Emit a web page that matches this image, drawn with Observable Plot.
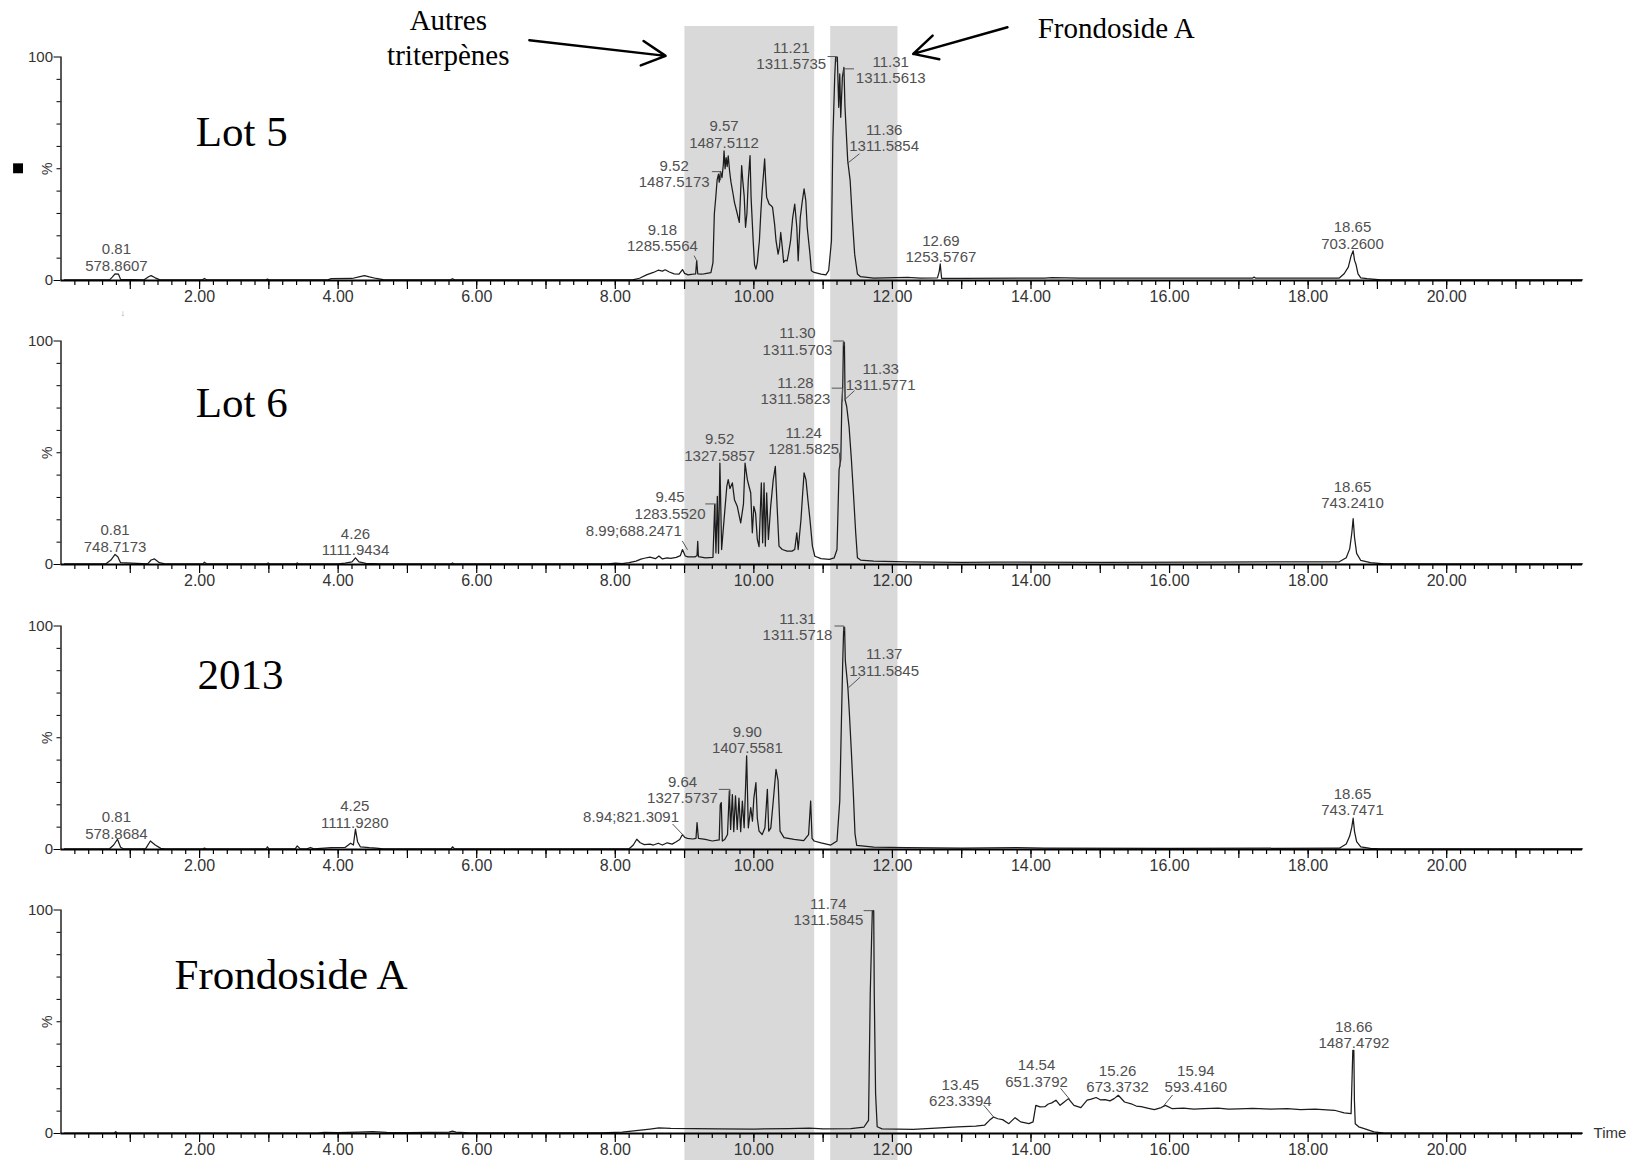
<!DOCTYPE html>
<html><head><meta charset="utf-8">
<script src="https://cdn.jsdelivr.net/npm/d3@7"></script>
<script src="https://cdn.jsdelivr.net/npm/@observablehq/plot@0.6"></script>
<style>
body{margin:0;background:#fff;}
#fig{position:relative;width:1637px;height:1160px;overflow:hidden;background:#fff;}
#fig > div{position:absolute;left:0;}
</style></head><body><div id="fig"></div>
<script>
// ---------- data ----------
const panelNames = ["Lot 5", "Lot 6", "2013", "Frondoside A"];
const panelNamePos = [[2.61, 66.3], [2.61, 72.3], [2.59, 77.8], [3.32, 70.7]];

const traceLot5 = [[0.05,0.3],[0.7,0.3],[0.74,1.5],[0.78,3],[0.83,2.8],[0.86,0.5],[1.2,0.3],[1.27,1.8],[1.3,2.2],[1.36,1.2],[1.42,0.4],[2.04,0.3],[2.07,0.9],[2.1,0.3],[2.96,0.3],[2.98,0.6],[3.0,0.3],[3.85,0.3],[3.9,0.8],[4.2,0.9],[4.3,1.6],[4.38,2.2],[4.45,1.6],[4.55,0.9],[4.65,0.4],[5.62,0.3],[5.65,0.8],[5.68,0.3],[8.25,0.3],[8.35,1],[8.45,2.5],[8.55,3.6],[8.62,4.6],[8.68,4.2],[8.72,4.8],[8.78,3.8],[8.85,3],[8.92,2.8],[8.97,4.9],[9.0,3.2],[9.05,2.5],[9.12,2.8],[9.16,3],[9.175,8.9],[9.19,3],[9.25,2.8],[9.32,3.2],[9.38,3.5],[9.41,8],[9.43,30],[9.45,37],[9.47,45],[9.49,47.6],[9.5,44],[9.52,48.7],[9.54,46],[9.56,52],[9.57,58],[9.585,50],[9.6,55],[9.615,51],[9.63,55.8],[9.65,49],[9.67,44],[9.7,38.7],[9.72,35],[9.75,31.2],[9.79,26],[9.81,40],[9.824,51.4],[9.84,44.7],[9.86,38],[9.88,23.8],[9.9,30],[9.92,45],[9.945,55.9],[9.96,37.2],[9.99,17.8],[10.01,7],[10.03,5.1],[10.05,8],[10.08,17.8],[10.1,30],[10.12,40],[10.14,48],[10.156,54.4],[10.17,45],[10.185,37.2],[10.2,36],[10.22,34.2],[10.25,33.5],[10.27,32.7],[10.3,25],[10.32,17.8],[10.35,11.8],[10.37,15],[10.388,21.5],[10.41,15],[10.43,8.1],[10.45,9],[10.48,8.8],[10.5,12],[10.53,17.8],[10.56,28],[10.59,34.2],[10.62,23.8],[10.64,8.8],[10.67,28.2],[10.7,35.7],[10.725,41],[10.75,35.7],[10.77,23.8],[10.81,11.8],[10.83,4.4],[10.87,3.6],[10.97,2.9],[11.04,2.5],[11.08,4.4],[11.12,17.8],[11.14,62.6],[11.167,90.9],[11.18,99.9],[11.205,99.9],[11.225,77.5],[11.24,92.4],[11.254,73],[11.278,91],[11.3,95.4],[11.315,78],[11.335,65.6],[11.355,53.6],[11.39,44.7],[11.42,28.2],[11.455,11.8],[11.495,2.9],[11.54,1.7],[11.73,1.1],[12.22,1.4],[12.4,1.1],[12.65,1.2],[12.675,4],[12.69,7.4],[12.71,1.0],[13,1.0],[14.2,1.1],[14.3,1.3],[14.7,1.1],[17.2,1.1],[17.22,1.5],[17.24,1.1],[18.45,1.1],[18.52,3],[18.58,6],[18.62,11],[18.65,13.3],[18.67,9],[18.69,7.3],[18.72,3],[18.76,1.2],[18.85,0.8],[19.05,0.3],[21.96,0.3]];

const traceLot6 = [[0.05,0.3],[0.65,0.3],[0.72,2],[0.78,4.5],[0.82,3.5],[0.86,0.8],[1.25,0.3],[1.3,2],[1.35,2.5],[1.42,0.8],[1.5,0.3],[2.05,0.3],[2.07,1],[2.1,0.3],[2.97,0.3],[2.99,0.7],[3.01,0.3],[3.39,0.3],[3.41,0.7],[3.43,0.3],[4.0,0.3],[4.1,0.6],[4.2,1.2],[4.25,3],[4.3,1.2],[4.4,0.5],[4.6,0.3],[5.63,0.3],[5.65,0.7],[5.67,0.3],[7.9,0.3],[8.0,0.6],[8.1,0.4],[8.2,0.8],[8.3,1.5],[8.37,2.4],[8.42,2.8],[8.5,3.3],[8.58,2.6],[8.63,3.8],[8.68,2.5],[8.75,3],[8.8,2.7],[8.88,3.2],[8.94,4],[8.97,6.7],[9.01,3.8],[9.05,3.4],[9.15,3.4],[9.18,4],[9.19,10.4],[9.2,3.5],[9.3,3],[9.41,3.2],[9.435,26.8],[9.453,5.2],[9.473,30.5],[9.49,5],[9.51,45.4],[9.535,6.7],[9.57,20.1],[9.61,35],[9.63,38],[9.655,34],[9.69,36.5],[9.72,29],[9.76,26.1],[9.81,18.6],[9.85,27],[9.873,45.4],[9.906,38],[9.93,35],[9.955,32],[9.978,14.2],[10.0,26],[10.025,23],[10.05,11.2],[10.075,8],[10.108,36.5],[10.127,9.7],[10.147,36.5],[10.166,8.2],[10.185,32],[10.21,11.2],[10.243,26],[10.28,38],[10.31,43.9],[10.34,23.1],[10.363,8.2],[10.41,6.7],[10.48,6],[10.55,6],[10.59,6.7],[10.62,14.2],[10.64,6.7],[10.68,20],[10.705,32],[10.725,41],[10.752,38],[10.78,29],[10.81,20.1],[10.845,8.2],[10.88,3.7],[10.97,2.6],[11.09,2.3],[11.16,3],[11.2,6.7],[11.23,42.4],[11.255,47],[11.27,72.2],[11.283,79.6],[11.293,99.3],[11.307,99.3],[11.317,73.7],[11.34,70.7],[11.374,61.8],[11.408,46.9],[11.437,32],[11.47,14.2],[11.495,3],[11.54,2],[11.73,1.5],[12.2,1.2],[13.0,1.0],[13.5,1.1],[15,1.0],[16.5,1.1],[18.45,1.2],[18.55,3],[18.6,7],[18.63,14],[18.65,20.5],[18.67,12],[18.7,5],[18.76,1.8],[18.9,0.8],[19.1,0.3],[21.96,0.3]];

const trace2013 = [[0.05,0.3],[0.7,0.3],[0.76,2],[0.815,4.6],[0.86,1],[0.9,0.3],[1.22,0.3],[1.29,3.8],[1.36,2],[1.44,0.5],[1.5,0.3],[2.05,0.3],[2.07,0.6],[2.1,0.3],[2.96,0.3],[2.98,1.2],[3.0,0.3],[3.38,0.3],[3.41,1.6],[3.45,0.4],[3.55,0.3],[3.6,0.9],[3.65,0.3],[3.8,0.6],[3.9,0.8],[4.1,0.9],[4.18,2.8],[4.22,2],[4.25,9.1],[4.28,3.5],[4.32,1.2],[4.45,0.8],[4.55,0.6],[4.65,0.3],[5.63,0.3],[5.65,1.2],[5.68,0.3],[8.2,0.3],[8.26,2],[8.31,4.6],[8.36,3],[8.42,2.2],[8.5,2.4],[8.55,2],[8.62,2.8],[8.68,2],[8.75,3],[8.82,2.4],[8.88,3.5],[8.93,4.5],[8.97,6.7],[9.0,5.5],[9.04,5],[9.12,4.7],[9.165,5],[9.18,12],[9.2,5],[9.3,4.5],[9.4,3.8],[9.5,4.3],[9.515,20],[9.53,21],[9.545,3.8],[9.58,4.5],[9.62,6.7],[9.646,26.2],[9.665,9],[9.69,24.6],[9.71,8],[9.735,24],[9.76,9],[9.785,23],[9.81,8],[9.834,21.7],[9.86,9.7],[9.896,41.9],[9.92,9.7],[9.955,18.7],[9.98,12.7],[10.0,23],[10.03,29.9],[10.05,14],[10.075,8.2],[10.12,6.7],[10.16,9.7],[10.195,26.9],[10.215,8.2],[10.245,9.7],[10.28,21.7],[10.32,35.9],[10.35,30.7],[10.378,8.2],[10.435,5.3],[10.58,4.5],[10.72,4],[10.79,6.7],[10.82,21.7],[10.84,5],[10.87,3.8],[10.97,3],[11.11,2],[11.2,3.8],[11.24,21.7],[11.265,59],[11.283,84.5],[11.297,99.4],[11.31,99.4],[11.32,84.5],[11.34,78],[11.357,72.5],[11.377,62],[11.407,44],[11.436,25],[11.46,7],[11.485,1.8],[11.73,1.1],[12.2,0.8],[13,0.6],[13.8,0.8],[14.2,0.6],[16,0.5],[18.45,0.6],[18.55,2.5],[18.6,6],[18.63,10],[18.65,14],[18.67,8],[18.7,3.5],[18.76,1.2],[18.9,0.5],[19.05,0.3],[21.96,0.3]];

const traceFrondoside = [[0.05,0.2],[0.77,0.2],[0.79,0.8],[0.81,0.2],[3.7,0.2],[3.8,0.5],[4.0,0.4],[4.3,0.6],[4.5,0.8],[4.7,0.5],[5.0,0.4],[5.6,0.6],[5.65,1.1],[5.7,0.6],[5.9,0.3],[7.8,0.3],[8.1,0.6],[8.3,1.3],[8.5,2],[8.63,2.5],[8.8,2.3],[9.5,2.1],[10.0,2.0],[10.5,2.2],[10.8,2.4],[11.0,2.1],[11.4,2.2],[11.59,2.9],[11.655,5.9],[11.68,62.5],[11.7,87.8],[11.71,99.7],[11.73,99.7],[11.738,62.5],[11.757,17.9],[11.78,3],[11.85,2.1],[12.3,1.8],[12.69,2.5],[12.94,3],[13.2,3.3],[13.33,3.7],[13.4,5.9],[13.46,7.4],[13.52,6.6],[13.59,6.2],[13.68,4.4],[13.77,7.1],[13.85,5.2],[13.97,4.4],[14.03,5.2],[14.07,12.6],[14.13,11.9],[14.2,12],[14.25,13.2],[14.3,13.7],[14.36,14.9],[14.42,12.6],[14.48,14.1],[14.54,15.6],[14.62,12.6],[14.72,11.6],[14.81,14.9],[14.87,15.4],[14.94,16.1],[15.0,15.1],[15.07,15.2],[15.14,14.6],[15.2,15.6],[15.26,17.1],[15.35,14.1],[15.46,13.1],[15.52,12.3],[15.59,12],[15.68,11.4],[15.78,10.7],[15.88,11.6],[15.94,12.6],[16.04,11.1],[16.2,11.4],[16.35,10.9],[16.5,11.1],[16.7,11.3],[16.85,10.9],[17.0,11.0],[17.2,11.2],[17.46,10.9],[17.7,11.1],[17.89,10.7],[18.1,10.9],[18.38,10.4],[18.52,9.2],[18.62,8.9],[18.645,37.2],[18.66,37.2],[18.668,14.9],[18.68,4.4],[18.73,3],[18.81,2.2],[18.95,0.7],[19.1,0.2],[21.96,0.2]];

const traces = [traceLot5, traceLot6, trace2013, traceFrondoside];

// peak labels: [panel, x (min), y (%), line1, line2]
const peakLabels = [
  [0, 0.80, 10.4, "0.81", "578.8607"],
  [0, 8.68, 19.15, "9.18", "1285.5564"],
  [0, 8.85, 47.65, "9.52", "1487.5173"],
  [0, 9.57, 65.45, "9.57", "1487.5112"],
  [0, 10.54, 100.6, "11.21", "1311.5735"],
  [0, 11.976, 94.1, "11.31", "1311.5613"],
  [0, 11.88, 63.8, "11.36", "1311.5854"],
  [0, 12.70, 14.2, "12.69", "1253.5767"],
  [0, 18.64, 20.2, "18.65", "703.2600"],
  [1, 0.78, 11.75, "0.81", "748.7173"],
  [1, 4.25, 10.1, "4.26", "1111.9434"],
  [1, 8.79, 26.45, "9.45", "1283.5520"],
  [1, 9.507, 52.45, "9.52", "1327.5857"],
  [1, 10.72, 55.45, "11.24", "1281.5825"],
  [1, 10.60, 77.6, "11.28", "1311.5823"],
  [1, 10.63, 99.85, "11.30", "1311.5703"],
  [1, 11.83, 84.15, "11.33", "1311.5771"],
  [1, 18.64, 31.1, "18.65", "743.2410"],
  [2, 0.80, 10.85, "0.81", "578.8684"],
  [2, 4.24, 15.75, "4.25", "1111.9280"],
  [2, 8.97, 26.55, "9.64", "1327.5737"],
  [2, 9.906, 48.95, "9.90", "1407.5581"],
  [2, 10.63, 99.6, "11.31", "1311.5718"],
  [2, 11.88, 83.75, "11.37", "1311.5845"],
  [2, 18.64, 21.2, "18.65", "743.7471"],
  [3, 11.075, 99.1, "11.74", "1311.5845"],
  [3, 12.98, 18.25, "13.45", "623.3394"],
  [3, 14.08, 26.9, "14.54", "651.3792"],
  [3, 15.25, 24.55, "15.26", "673.3732"],
  [3, 16.38, 24.4, "15.94", "593.4160"],
  [3, 18.66, 44.25, "18.66", "1487.4792"]
];
// single-line labels (right-aligned): [panel, x end, y, text]
const inlineLabels = [
  [1, 8.96, 15.0, "8.99;688.2471"],
  [2, 8.92, 14.6, "8.94;821.3091"]
];
// leader lines: [panel, id, [[x,y],...]]
const leaders = [
  [0, "a", [[9.14, 11], [9.18, 8.6]]],
  [0, "b", [[9.40, 48.7], [9.52, 48.7], [9.52, 45]]],
  [0, "c", [[11.07, 100.2], [11.19, 100.2], [11.19, 98]]],
  [0, "d", [[11.44, 94.7], [11.30, 94.7], [11.30, 92]]],
  [0, "e", [[11.52, 56.6], [11.35, 52.4]]],
  [1, "a", [[8.97, 10.4], [9.04, 6.7]]],
  [1, "b", [[9.305, 27.1], [9.45, 27.1], [9.45, 20]]],
  [1, "c", [[11.235, 49.9], [11.245, 43.9]]],
  [1, "d", [[11.13, 78.9], [11.28, 78.9], [11.28, 73]]],
  [1, "e", [[11.15, 100], [11.30, 100], [11.30, 98]]],
  [1, "f", [[11.45, 77.7], [11.31, 73.7]]],
  [2, "a", [[8.83, 11.3], [8.99, 6.1]]],
  [2, "b", [[9.50, 26.9], [9.656, 26.9], [9.656, 24]]],
  [2, "c", [[11.17, 100], [11.30, 100], [11.30, 98]]],
  [2, "d", [[11.53, 77], [11.37, 72.5]]],
  [3, "a", [[11.59, 99.7], [11.72, 99.7]]],
  [3, "b", [[13.32, 12.6], [13.46, 7.4]]],
  [3, "c", [[14.43, 20.1], [14.55, 15.6]]],
  [3, "d", [[16.04, 17.1], [15.92, 12.6]]]
];

// shaded retention-time windows (min)
const bands = [{x1: 9.005, x2: 10.878}, {x1: 11.109, x2: 12.08}];

// top annotations (in Lot 5 panel units)
const topTexts = [
  {x: 5.59, y: 116.3, text: "Autres"},
  {x: 5.59, y: 100.6, text: "triterpènes"},
  {x: 15.23, y: 112.6, text: "Frondoside A"}
];
const topArrows = [
  {x1: 6.76, y1: 107.5, x2: 8.727, y2: 100.5},
  {x1: 13.66, y1: 113.3, x2: 12.30, y2: 101.4}
];

const xDomain = [0, 21.96];
const xLabelTicks = [2, 4, 6, 8, 10, 12, 14, 16, 18, 20];
const xMajorTicks = d3.range(1, 22, 1);
const xMinorTicks = d3.range(1, 110).map(i => i / 5);
const yLabelTicks = [0, 100];
const yMinorTicks = [10, 20, 30, 40, 50, 60, 70, 80, 90];

// ---------- layout ----------
const W = 1637, ML = 60.5, MR = 55;
const PANEL_STEP = 284.3, MT = 56.5, PH = 223.5, MB = 40;
const SANS = "'Liberation Sans', Arial, sans-serif";
const SERIF = "'Liberation Serif', 'Times New Roman', serif";
const fig = document.getElementById("fig");

// overlay with shaded bands (behind the traces)
const ov = Plot.plot({
  width: W, height: 1160, marginLeft: ML, marginRight: MR, marginTop: 26, marginBottom: 0,
  x: {domain: xDomain, axis: null},
  style: {background: "transparent", overflow: "visible"},
  marks: [Plot.rect(bands, {x1: "x1", x2: "x2", fill: "#d9d9d9"})]
});
const ovDiv = document.createElement("div");
ovDiv.style.top = "0px";
ovDiv.appendChild(ov);
fig.appendChild(ovDiv);

for (let i = 0; i < 4; i++) {
  const labs = peakLabels.filter(d => d[0] === i);
  const inl = inlineLabels.filter(d => d[0] === i);
  const lead = leaders.filter(d => d[0] === i).flatMap(d => d[2].map(p => ({id: d[1], x: p[0], y: p[1]})));
  const marks = [
    Plot.ruleX([0], {stroke: "#000", strokeWidth: 1.3}),
    Plot.axisY({ticks: yMinorTicks, tickSize: 4, tickFormat: () => "", label: null, stroke: "#000"}),
    Plot.axisY({ticks: yLabelTicks, tickSize: 7, tickPadding: 1, tickFormat: d => String(d), label: null, fontSize: 15, stroke: "#000", fill: "#333"}),
    Plot.text(["%"], {x: -0.2, y: 50, text: d => d, rotate: -90, fontSize: 14, fill: "#333"}),
    Plot.axisX({ticks: xMinorTicks, tickSize: 5, tickFormat: () => "", label: null, stroke: "#000", strokeWidth: 1.2}),
    Plot.axisX({ticks: xMajorTicks, tickSize: 9, tickFormat: () => "", label: null, stroke: "#000", strokeWidth: 1.2}),
    Plot.axisX({ticks: xLabelTicks, tickSize: 0, tickPadding: 10, tickFormat: d => d.toFixed(2), label: null, fontSize: 16, fill: "#333"}),
    Plot.line(traces[i], {x: d => d[0], y: d => d[1], stroke: "#1c1c1c", strokeWidth: 1.25}),
    Plot.ruleY([0], {stroke: "#000", strokeWidth: 2.2}),
    Plot.line(lead, {x: "x", y: "y", z: "id", stroke: "#555", strokeWidth: 1}),
    Plot.text(labs, {x: d => d[1], y: d => d[2], text: d => d[3] + "\n" + d[4], lineAnchor: "middle", lineHeight: 1.08, fontSize: 15, fill: "#505050"}),
    Plot.text(inl, {x: d => d[1], y: d => d[2], text: d => d[3], textAnchor: "end", fontSize: 15, fill: "#505050"}),
    Plot.text([panelNames[i]], {x: panelNamePos[i][0], y: panelNamePos[i][1], text: d => d, fontFamily: SERIF, fontSize: 43, fill: "#000"})
  ];
  if (i === 0) {
    marks.push(
      Plot.text(topTexts, {x: "x", y: "y", text: "text", fontFamily: SERIF, fontSize: 29, fill: "#000"}),
      Plot.arrow(topArrows, {x1: "x1", y1: "y1", x2: "x2", y2: "y2", stroke: "#000", strokeWidth: 2.5, headLength: 16, headAngle: 55}),
      Plot.dot([{x: -0.62, y: 50.2}], {x: "x", y: "y", symbol: "square", r: 5.6, fill: "#000"})
    );
  }
  if (i === 1) {
    marks.push(Plot.text(["\u2193"], {x: 0.89, y: 112.5, text: d => d, fontSize: 9, fill: "#8c9ab5"}));
  }
  if (i === 3) {
    marks.push(Plot.text(["Time"], {x: 22.12, y: 0, text: d => d, textAnchor: "start", fontSize: 15, fill: "#333"}));
  }
  const p = Plot.plot({
    width: W, height: MT + PH + MB, marginLeft: ML, marginRight: MR, marginTop: MT, marginBottom: MB,
    x: {domain: xDomain},
    y: {domain: [0, 100]},
    style: {background: "transparent", overflow: "visible", fontFamily: SANS},
    marks
  });
  const div = document.createElement("div");
  div.style.top = (i * PANEL_STEP) + "px";
  div.appendChild(p);
  fig.appendChild(div);
}
</script></body></html>
